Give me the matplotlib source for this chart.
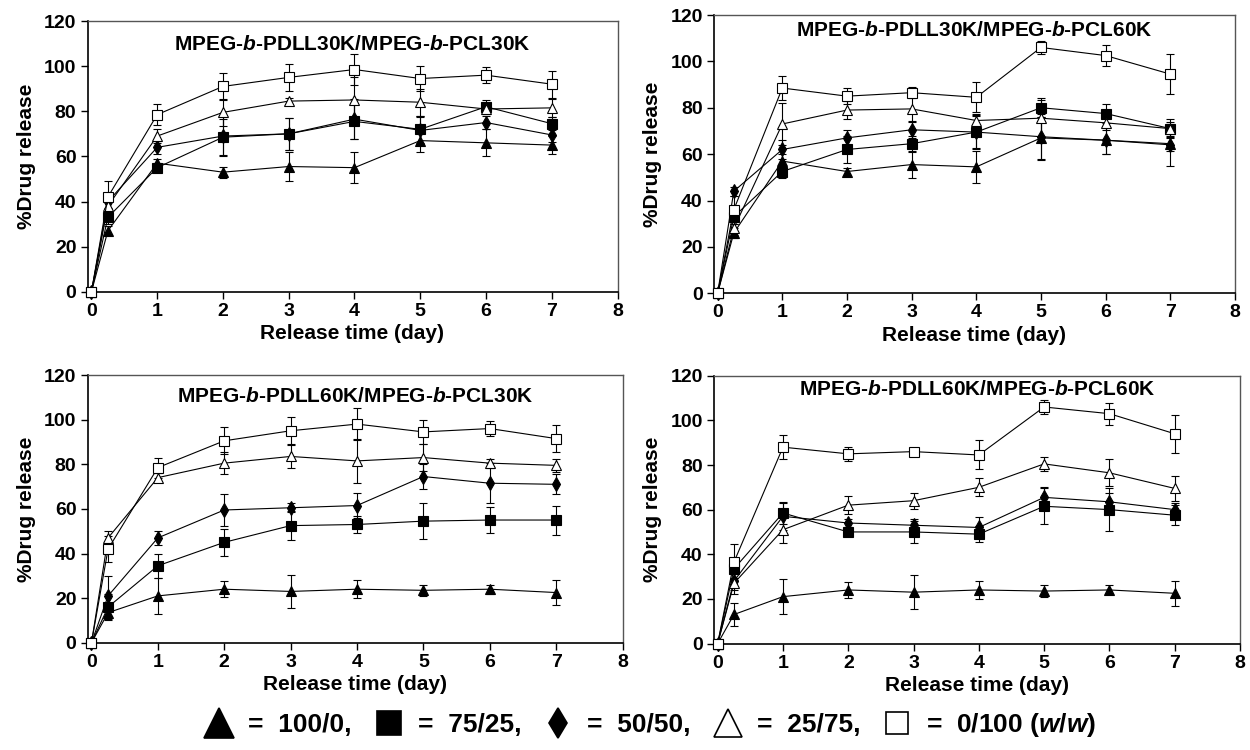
import matplotlib
matplotlib.use('Agg')
import matplotlib.pyplot as plt
from matplotlib.lines import Line2D

plt.rcParams['font.family'] = ['Liberation Sans', 'DejaVu Sans']
plt.rcParams['font.weight'] = 'bold'
plt.rcParams['mathtext.fontset'] = 'custom'
plt.rcParams['mathtext.it'] = 'Liberation Sans:bold:italic'
plt.rcParams['mathtext.rm'] = 'Liberation Sans:bold'

# release time points (day)
days = [0, 0.25, 1, 2, 3, 4, 5, 6, 7]
ratios = ['100/0', '75/25', '50/50', '25/75', '0/100']
titles = ['MPEG-$b$-PDLL30K/MPEG-$b$-PCL30K', 'MPEG-$b$-PDLL30K/MPEG-$b$-PCL60K',
          'MPEG-$b$-PDLL60K/MPEG-$b$-PCL30K', 'MPEG-$b$-PDLL60K/MPEG-$b$-PCL60K']

# panel 1: PDLL30K / PCL30K
p1_100_0 = [0, 27, 57, 53, 55.5, 55, 67, 66, 65]
p1_75_25 = [0, 33, 55, 68.5, 70, 75.5, 72, 82, 74.5]
p1_50_50 = [0, 40, 64, 69, 70, 76.5, 71.5, 75, 69.5]
p1_25_75 = [0, 38, 69, 79.5, 84.5, 85, 84, 81, 81.5]
p1_0_100 = [0, 42, 78.5, 91, 95, 98.5, 94.5, 96, 92]
p1_100_0_err = [0, 2, 2, 2.5, 6.5, 7, 5, 6, 4]
p1_75_25_err = [0, 3, 2, 8, 7, 8, 6, 3, 3]
p1_50_50_err = [0, 3, 3, 9, 7, 9, 6, 3, 3]
p1_25_75_err = [0, 4, 3, 6, 1.5, 10, 6, 2, 4]
p1_0_100_err = [0, 7, 4.5, 6, 6, 7, 5.5, 3.5, 6]

# panel 2: PDLL30K / PCL60K
p2_100_0 = [0, 26, 57, 52.5, 55.5, 54.5, 67, 66, 64.5]
p2_75_25 = [0, 33, 52.5, 62, 64.5, 69.5, 80, 77.5, 71]
p2_50_50 = [0, 44, 62, 67, 70.5, 69.5, 67.5, 66, 64]
p2_25_75 = [0, 28, 73, 79, 79.5, 74.5, 75.5, 73.5, 71]
p2_0_100 = [0, 36, 88.5, 85, 86.5, 84.5, 106, 102.5, 94.5]
p2_100_0_err = [0, 2, 3, 1.5, 6, 7, 9, 6, 3]
p2_75_25_err = [0, 3, 3, 6, 3.5, 7.5, 4, 4, 4]
p2_50_50_err = [0, 2, 4, 3.5, 3.5, 7, 10, 6, 9]
p2_25_75_err = [0, 3, 9, 4, 5, 3, 8, 3, 3]
p2_0_100_err = [0, 6, 5, 3.5, 2.5, 6.5, 3, 4.5, 8.5]

# panel 3: PDLL60K / PCL30K
p3_100_0 = [0, 13.5, 21, 24, 23, 24, 23.5, 24, 22.5]
p3_75_25 = [0, 16, 34.5, 45, 52.5, 53, 54.5, 55, 55]
p3_50_50 = [0, 21, 47, 59.5, 60.5, 61.5, 74.5, 71.5, 71]
p3_25_75 = [0, 47, 74, 80.5, 83.5, 81.5, 83, 80.5, 79.5]
p3_0_100 = [0, 42, 78.5, 90.5, 95, 98, 94.5, 96, 91.5]
p3_100_0_err = [0, 3, 8, 3.5, 7.5, 4, 2.5, 2, 5.5]
p3_75_25_err = [0, 6, 5.5, 6, 6.5, 4, 8, 6, 6.5]
p3_50_50_err = [0, 9, 3, 7, 2, 5.5, 5.5, 9, 4.5]
p3_25_75_err = [0, 3, 2, 5, 5, 10, 6, 2, 3]
p3_0_100_err = [0, 6, 4.5, 6, 6, 7, 5.5, 3.5, 6]

# panel 4: PDLL60K / PCL60K
p4_100_0 = [0, 13, 21, 24, 23, 24, 23.5, 24, 22.5]
p4_75_25 = [0, 33.5, 58.5, 50, 50, 49, 61.5, 60, 57.5]
p4_50_50 = [0, 28, 57, 54, 53, 52, 65.5, 63.5, 60]
p4_25_75 = [0, 27, 51, 62, 64, 70, 80.5, 76.5, 69.5]
p4_0_100 = [0, 36.5, 88, 85, 86, 84.5, 106, 103, 94]
p4_100_0_err = [0, 5, 8, 3.5, 7.5, 4, 2.5, 2, 5.5]
p4_75_25_err = [0, 4, 5, 2, 5, 3.5, 8, 9.5, 4.5]
p4_50_50_err = [0, 4, 6, 2, 3, 4.5, 4.5, 4, 3]
p4_25_75_err = [0, 5, 6, 4, 3.5, 4, 3, 6, 5.5]
p4_0_100_err = [0, 8, 5.5, 3, 1.5, 6.5, 3, 5, 8.5]

panels = [
    ([p1_100_0, p1_75_25, p1_50_50, p1_25_75, p1_0_100],
     [p1_100_0_err, p1_75_25_err, p1_50_50_err, p1_25_75_err, p1_0_100_err]),
    ([p2_100_0, p2_75_25, p2_50_50, p2_25_75, p2_0_100],
     [p2_100_0_err, p2_75_25_err, p2_50_50_err, p2_25_75_err, p2_0_100_err]),
    ([p3_100_0, p3_75_25, p3_50_50, p3_25_75, p3_0_100],
     [p3_100_0_err, p3_75_25_err, p3_50_50_err, p3_25_75_err, p3_0_100_err]),
    ([p4_100_0, p4_75_25, p4_50_50, p4_25_75, p4_0_100],
     [p4_100_0_err, p4_75_25_err, p4_50_50_err, p4_25_75_err, p4_0_100_err]),
]

# marker, plot size, legend size, face colour for each ratio
styles = [('^', 7.5, 21, 'black'), ('s', 6.5, 17, 'black'), ('d', 7.5, 15, 'black'),
          ('^', 7.5, 20, 'white'), ('s', 7.5, 16, 'white')]

# axes rectangles [left, bottom, width, height]
rects = [[0.070, 0.611, 0.424, 0.361],
         [0.571, 0.609, 0.417, 0.371],
         [0.070, 0.143, 0.428, 0.357],
         [0.571, 0.142, 0.421, 0.357]]
title_y = [0.915, 0.945, 0.92, 0.948]

fig = plt.figure(figsize=(12.5, 7.5), dpi=100)

for i, (means, errs) in enumerate(panels):
    ax = fig.add_axes(rects[i])
    for (m, ms, _, fc), y, e in zip(styles, means, errs):
        ax.errorbar(days, y, yerr=e, color='black', lw=0.8, elinewidth=0.8,
                    capsize=3, capthick=0.8, marker=m, markersize=ms,
                    markerfacecolor=fc, markeredgecolor='black',
                    markeredgewidth=0.8, clip_on=False, zorder=3)
    ax.set_xlim(-0.06, 8)
    ax.set_ylim(0, 120)
    ax.set_xticks(range(0, 9))
    ax.set_yticks(range(0, 121, 20))
    ax.tick_params(direction='out', length=5, width=1, labelsize=14, pad=3)
    for s in ['top', 'right']:
        ax.spines[s].set_color('#555555')
        ax.spines[s].set_linewidth(1)
    for s in ['left', 'bottom']:
        ax.spines[s].set_linewidth(1.2)
    ax.set_xlabel('Release time (day)', fontsize=15, fontweight='bold', labelpad=3)
    ax.set_ylabel('%Drug release', fontsize=15, fontweight='bold', labelpad=6)
    ax.text(0.5, title_y[i], titles[i], transform=ax.transAxes, ha='center',
            va='center', fontsize=15, fontweight='bold')

# legend row at the bottom
handles = [Line2D([], [], linestyle='none', marker=m, markersize=ls,
                  markerfacecolor=fc, markeredgecolor='black', markeredgewidth=1.2)
           for (m, ms, ls, fc) in styles]
labels = ['=  %s,' % r for r in ratios[:4]] + ['=  %s ($\\it{w/w}$)' % ratios[4]]
fig.legend(handles, labels, loc='center', bbox_to_anchor=(0.52, 0.033), ncol=5,
           frameon=False, handlelength=1.2, handletextpad=0.5,
           columnspacing=0.8, prop={'weight': 'bold', 'size': 19})

fig.savefig('out.png', dpi=100)
